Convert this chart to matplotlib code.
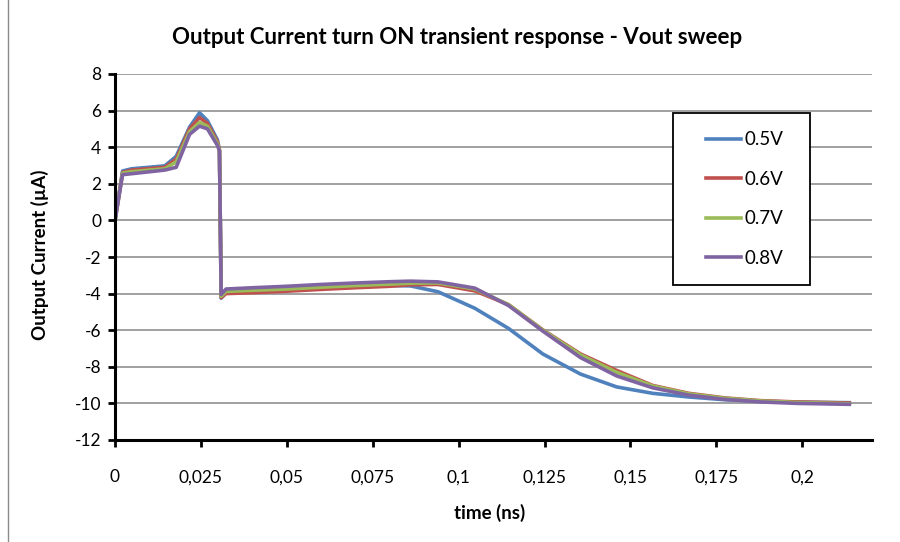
import numpy as np
import matplotlib
matplotlib.use("Agg")
import matplotlib.pyplot as plt
from matplotlib.patches import Rectangle
from matplotlib.lines import Line2D

# Data (time in ns, current in uA)
time_ns = [0, 0.0022, 0.0048, 0.0145, 0.0178, 0.0217, 0.0246, 0.0269, 0.0298, 0.0304,
           0.0309, 0.0323, 0.04, 0.05, 0.06, 0.07, 0.08, 0.086, 0.094, 0.1047,
           0.1145, 0.1245, 0.1355, 0.146, 0.1565, 0.167, 0.1775, 0.188, 0.1985, 0.2137]

i_05v = [0, 2.70, 2.82, 2.98, 3.50, 5.10, 5.88, 5.45, 4.40, 3.85,
         -4.25, -3.95, -3.90, -3.82, -3.72, -3.63, -3.56, -3.58, -3.90, -4.80,
         -5.90, -7.30, -8.40, -9.10, -9.45, -9.65, -9.80, -9.88, -9.93, -9.96]
i_06v = [0, 2.62, 2.75, 2.90, 3.35, 5.00, 5.62, 5.30, 4.30, 3.85,
         -4.22, -4.00, -3.95, -3.87, -3.77, -3.68, -3.60, -3.52, -3.50, -3.85,
         -4.60, -5.98, -7.30, -8.20, -9.02, -9.45, -9.70, -9.85, -9.92, -9.98]
i_07v = [0, 2.58, 2.66, 2.82, 3.20, 4.85, 5.35, 5.15, 4.20, 3.82,
         -4.15, -3.88, -3.82, -3.75, -3.65, -3.56, -3.48, -3.43, -3.42, -3.75,
         -4.60, -6.00, -7.35, -8.30, -9.05, -9.48, -9.72, -9.87, -9.95, -10.02]
i_08v = [0, 2.50, 2.55, 2.75, 2.90, 4.70, 5.15, 5.00, 4.10, 3.80,
         -4.05, -3.75, -3.68, -3.60, -3.50, -3.42, -3.35, -3.32, -3.36, -3.70,
         -4.65, -6.05, -7.50, -8.50, -9.15, -9.55, -9.78, -9.92, -10.00, -10.05]

series = [i_05v, i_06v, i_07v, i_08v]
labels = ["0.5V", "0.6V", "0.7V", "0.8V"]
colors = ["#4F81BD", "#C0504D", "#9BBB59", "#8064A2"]

x_ticks = [0, 0.025, 0.05, 0.075, 0.1, 0.125, 0.15, 0.175, 0.2]
x_ticklabels = ["0", "0,025", "0,05", "0,075", "0,1", "0,125", "0,15", "0,175", "0,2"]
y_ticks = list(range(-12, 9, 2))

plt.rcParams["font.family"] = ["Lato", "DejaVu Sans"]
plt.rcParams["axes.unicode_minus"] = False

fig = plt.figure(figsize=(9, 5.42), dpi=100)
ax = fig.add_axes([115/900, 1-440/542, (872-115)/900, (440-74)/542])

for y, lab, col in zip(series, labels, colors):
    ax.plot(time_ns, y, color=col, linewidth=2.6, label=lab, solid_joinstyle="round")

ax.set_xlim(0, 0.2203)
ax.set_ylim(-12, 8)
ax.set_xticks(x_ticks)
ax.set_xticklabels(x_ticklabels)
ax.set_yticks(y_ticks)
ax.yaxis.grid(True, color="#868686", linewidth=1.1)
ax.set_axisbelow(True)
for side in ["top", "right"]:
    ax.spines[side].set_visible(False)
for side in ["left", "bottom"]:
    ax.spines[side].set_linewidth(2.2)
    ax.spines[side].set_color("black")
ax.tick_params(axis="both", direction="out", length=5, width=2, labelsize=12.5, colors="black")
ax.tick_params(axis="x", pad=16)
ax.tick_params(axis="y", pad=5)

# Legend box
bx0 = (673-115)/757
by0 = (440-285)/366
bw = (810-673)/757
bh = (285-113)/366
ax.add_patch(Rectangle((bx0, by0), bw, bh, transform=ax.transAxes, fill=True,
                       facecolor="white", edgecolor="black", linewidth=1.3, zorder=5))
leg = ax.legend(loc="center", bbox_to_anchor=(bx0+bw/2 + 0.004, by0+bh/2), frameon=False,
                fontsize=13.5, handlelength=1.9, handletextpad=0.15, labelspacing=1.2)
leg.set_zorder(6)

fig.text(0.508, 1-38/542, "Output Current turn ON transient response - Vout sweep",
         ha="center", va="center", fontsize=16, fontweight="bold")
fig.text(40/900, 1-255/542, "Output Current (µA)", rotation=90, ha="center", va="center",
         fontsize=13.5, fontweight="bold")
fig.text(490/900, 1-513/542, "time (ns)", ha="center", va="center", fontsize=13.5,
         fontweight="bold")

# chart area border (left edge visible in the reference)
fig.add_artist(Line2D([7.5/900, 7.5/900], [0, 1], transform=fig.transFigure,
                      color="#8c8c8c", linewidth=1))

fig.savefig("out.png", dpi=100)
